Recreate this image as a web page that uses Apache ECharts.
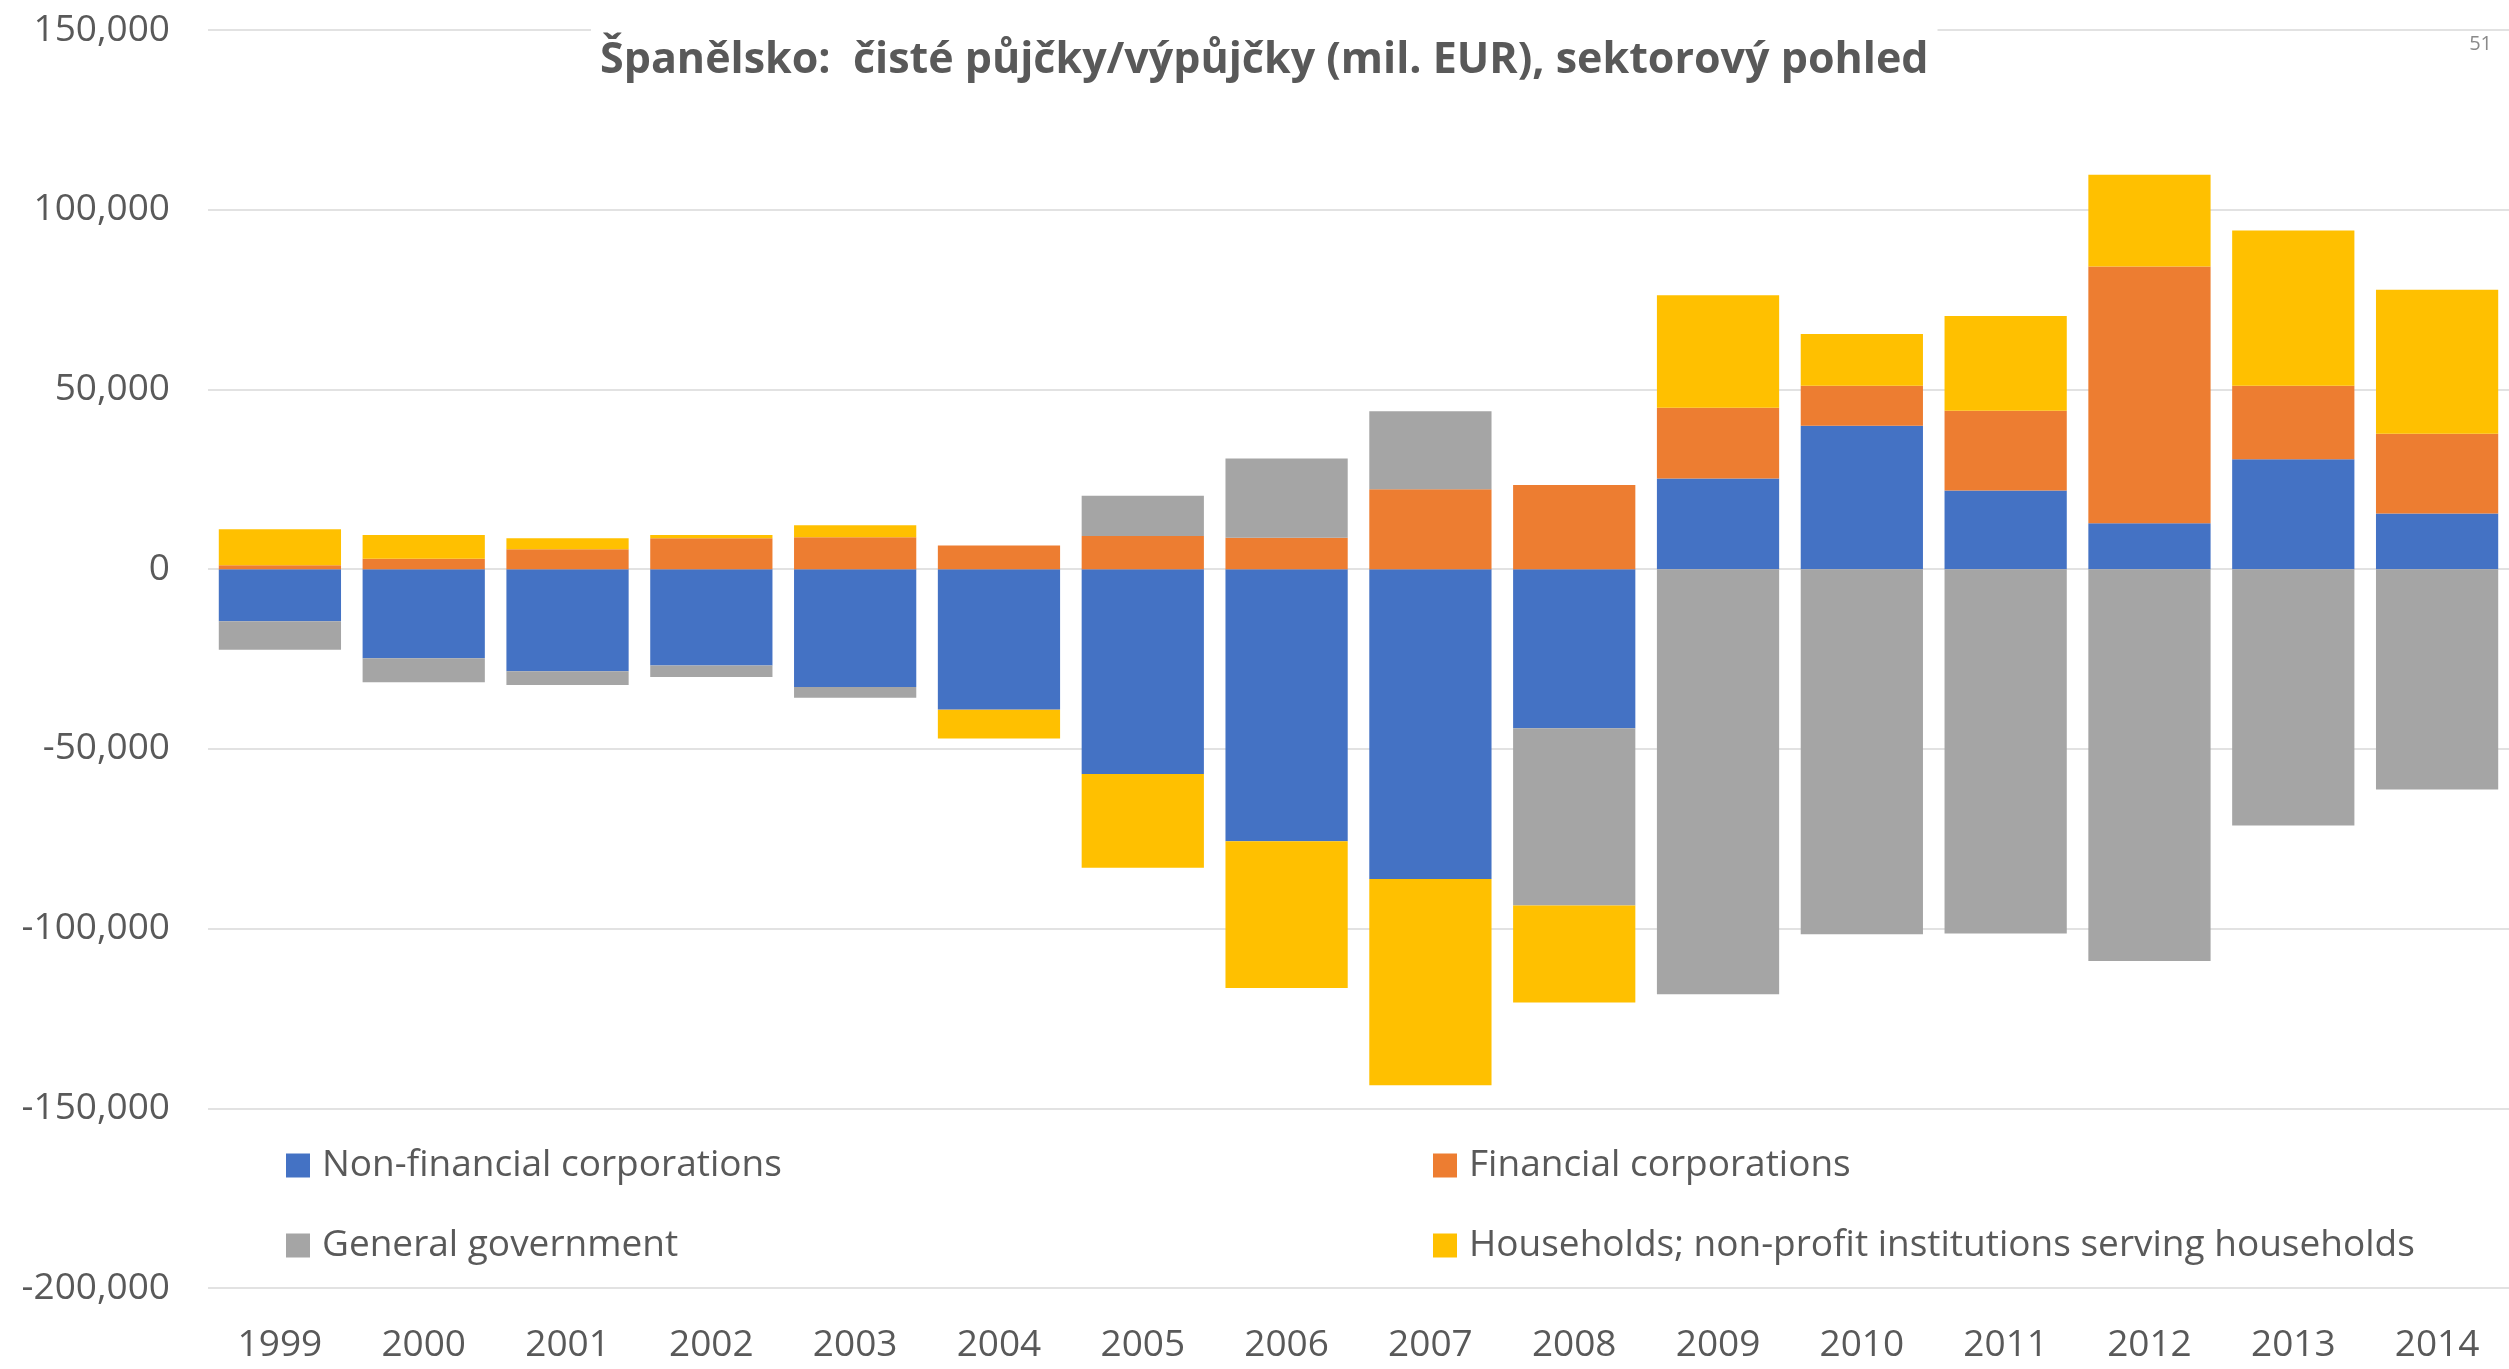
<!DOCTYPE html>
<html>
<head>
<meta charset="utf-8">
<script src="https://cdn.jsdelivr.net/npm/echarts@6/dist/echarts.min.js"></script>
<style>
  html, body { margin: 0; padding: 0; background: #fff; }
  #chart { width: 2509px; height: 1369px; }
</style>
</head>
<body>
<div id="chart"></div>
<script>
// data (mil. EUR)
var years = ["1999", "2000", "2001", "2002", "2003", "2004", "2005", "2006",
  "2007", "2008", "2009", "2010", "2011", "2012", "2013", "2014"];
var nonFinancial = [-14500, -24800, -28400, -26800, -32800, -38900, -57000, -75700,
  -86200, -44300, 25200, 39900, 21900, 12800, 30600, 15500];
var financial = [1100, 2900, 5500, 8600, 8900, 6600, 9200, 8700,
  22200, 23400, 19700, 11100, 22200, 71400, 20400, 22200];
var government = [-7900, -6700, -3800, -3200, -3000, -300, 11200, 22100,
  21700, -49300, -118300, -101600, -101400, -109000, -71300, -61300];
var households = [10000, 6600, 3100, 900, 3300, -7900, -26100, -40800,
  -57400, -27000, 31300, 14400, 26300, 25500, 43200, 40000];

var titleText = "Španělsko:  čisté půjčky/výpůjčky (mil. EUR), sektorový pohled";
var seriesNames = ["Non-financial corporations", "Financial corporations",
  "General government", "Households; non-profit institutions serving households"];

var font = "'Open Sans', 'Noto Sans', sans-serif";
var textColor = "#595959";

function makeLegend(name, left, top) {
  return {
    data: [name],
    left: left,
    top: top,
    padding: 0,
    icon: "rect",
    itemWidth: 24,
    itemHeight: 24,
    selectedMode: false,
    textStyle: {
      fontFamily: font,
      fontSize: 37,
      color: textColor,
      padding: [0, 0, 0, 7]
    }
  };
}

function makeSeries(name, data) {
  return {
    name: name,
    type: "bar",
    stack: "total",
    barCategoryGap: "15%",
    data: data
  };
}

var chart = echarts.init(document.getElementById("chart"));
chart.setOption({
  animation: false,
  color: ["#4472C4", "#ED7D31", "#A5A5A5", "#FFC000"],
  title: {
    // white box hides the top gridline behind the title, as in the original
    text: titleText,
    left: 591,
    top: 24,
    padding: [15, 9, 4, 9],
    backgroundColor: "#fff",
    textStyle: {
      fontFamily: font,
      fontSize: 43,
      fontWeight: "bold",
      color: textColor
    }
  },
  graphic: [{
    type: "text",
    right: 17,
    top: 34,
    style: {
      text: "51",
      fontFamily: font,
      fontSize: 20,
      fill: "#8a8a8a"
    }
  }],
  legend: [
    makeLegend(seriesNames[0], 286, 1147),
    makeLegend(seriesNames[1], 1433, 1147),
    makeLegend(seriesNames[2], 286, 1227),
    makeLegend(seriesNames[3], 1433, 1227)
  ],
  grid: {
    left: 208,
    right: -3,
    top: 30,
    bottom: 81,
    containLabel: false
  },
  xAxis: {
    type: "category",
    data: years,
    axisLine: { show: false, onZero: false },
    axisTick: { show: false },
    axisLabel: {
      margin: 39,
      fontFamily: font,
      fontSize: 37,
      color: textColor
    }
  },
  yAxis: {
    type: "value",
    min: -200000,
    max: 150000,
    interval: 50000,
    axisLine: { show: false },
    axisTick: { show: false },
    splitLine: { lineStyle: { color: "#D9D9D9", width: 1.5 } },
    axisLabel: {
      margin: 38,
      fontFamily: font,
      fontSize: 37,
      color: textColor,
      formatter: function (v) {
        return v.toLocaleString("en-US");
      }
    }
  },
  series: [
    makeSeries(seriesNames[0], nonFinancial),
    makeSeries(seriesNames[1], financial),
    makeSeries(seriesNames[2], government),
    makeSeries(seriesNames[3], households)
  ]
});
</script>
</body>
</html>
